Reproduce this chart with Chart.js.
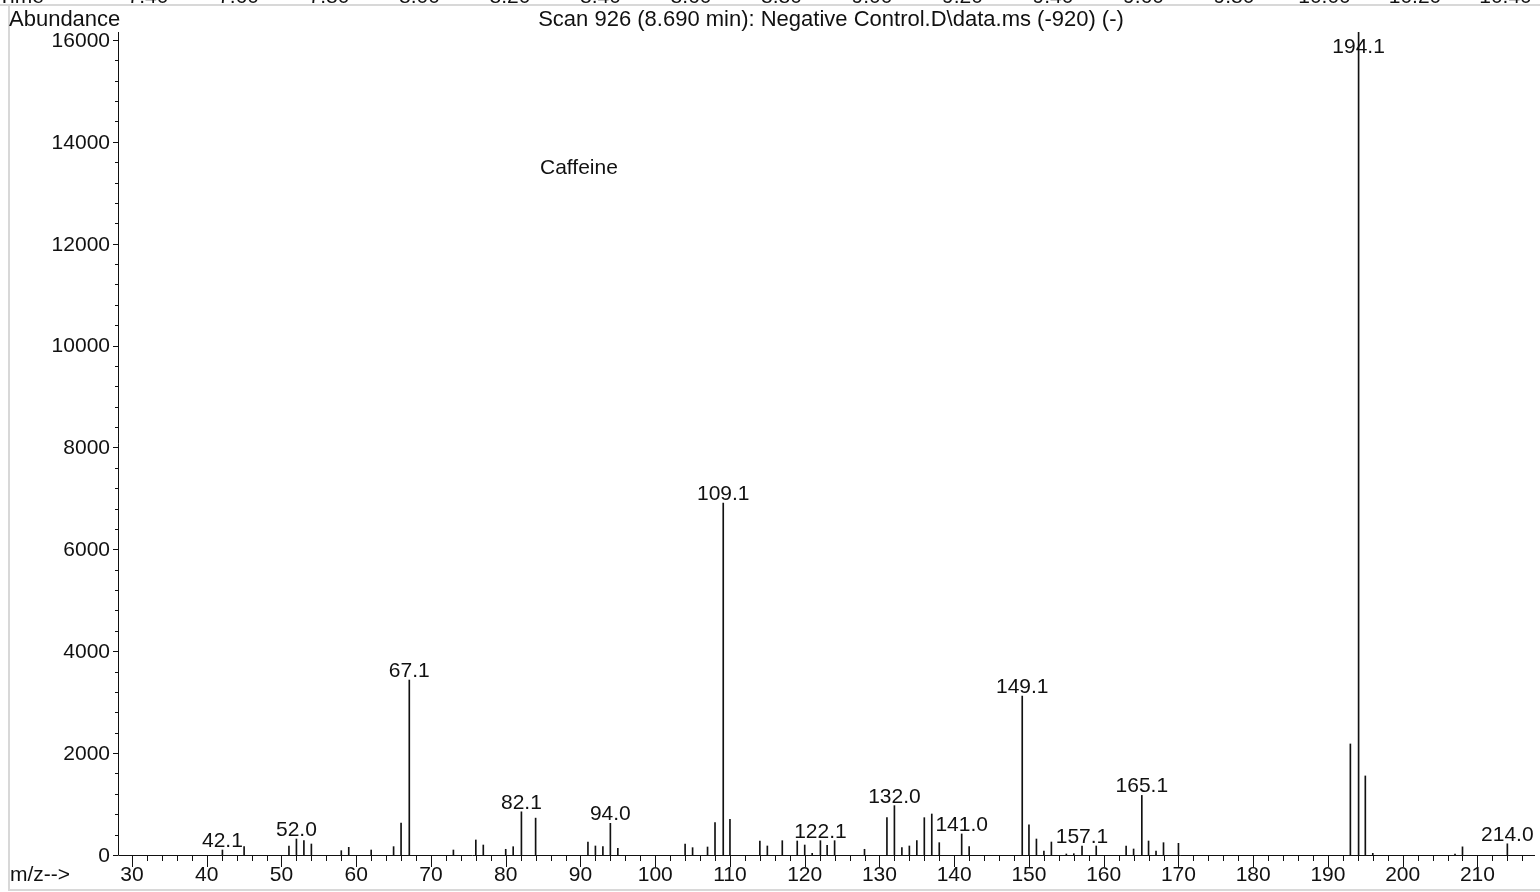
<!DOCTYPE html>
<html>
<head>
<meta charset="utf-8">
<script src="https://cdn.jsdelivr.net/npm/chart.js@4.4.1/dist/chart.umd.min.js"></script>
<style>
  html, body { margin: 0; padding: 0; background: #fff; }
  #wrap { width: 1540px; height: 892px; position: relative; }
</style>
</head>
<body>
<div id="wrap"><canvas id="msChart" width="1540" height="892"></canvas></div>
<script>
// m/z of every line in the scan and its abundance
const mzValues = [
  42.1, 45, 51, 52.0, 53, 54, 58, 59, 62, 65, 66, 67.1, 73, 76, 77, 80, 81, 82.1, 84,
  91, 92, 93, 94.0, 95, 104, 105, 107, 108, 109.1, 110, 114, 115, 117, 119, 120, 121,
  122.1, 123, 124, 128, 131, 132.0, 133, 134, 135, 136, 137, 138, 141.0, 142,
  149.1, 150, 151, 152, 153, 155, 156, 157.1, 159, 163, 164, 165.1, 166, 167, 168, 170,
  193, 194.1, 195, 196, 207, 208, 214.0
];
const abundance = [
  98, 164, 177, 314, 281, 216, 85, 151, 98, 164, 625, 3435, 98, 295, 196, 112, 163, 848, 724,
  255, 177, 164, 622, 131, 216, 144, 157, 635, 6910, 701, 275, 177, 281, 275, 196, 33,
  281, 190, 281, 112, 733, 969, 144, 177, 281, 733, 805, 242, 413, 164,
  3120, 590, 314, 79, 255, 20, 26, 177, 177, 177, 118, 1170, 275, 79, 242, 229,
  2180, 16150, 1552, 33, 20, 160, 220
];
// peaks that carry an m/z label
const labeledPeaks = [42.1, 52.0, 67.1, 82.1, 94.0, 109.1, 122.1, 132.0, 141.0, 149.1, 157.1, 165.1, 194.1, 214.0];

// axis ticks
const xMajorTicks = [30, 40, 50, 60, 70, 80, 90, 100, 110, 120, 130, 140, 150, 160, 170, 180, 190, 200, 210];
const yMajorTicks = [0, 2000, 4000, 6000, 8000, 10000, 12000, 14000, 16000];
// time axis of the chromatogram above (cut off at the top edge)
const timeTicks = ["7.40", "7.60", "7.80", "8.00", "8.20", "8.40", "8.60", "8.80", "9.00", "9.20", "9.40", "9.60", "9.80", "10.00", "10.20", "10.40"];

const titleText = "Scan 926 (8.690 min): Negative Control.D\\data.ms (-920) (-)";
const compoundName = "Caffeine";

const FONT = "21px 'Liberation Sans', Arial, sans-serif";
const HEAD_FONT = "22px 'Liberation Sans', Arial, sans-serif";
const INK = "#111";

const spectrumDecor = {
  id: "spectrumDecor",
  afterDatasetsDraw(chart) {
    const ctx = chart.ctx;
    const xs = chart.scales.x;
    const ys = chart.scales.y;
    const area = chart.chartArea;
    ctx.save();

    // light frame of the report page
    ctx.strokeStyle = "#d8d8d8";
    ctx.lineWidth = 2;
    ctx.beginPath();
    ctx.moveTo(0, 5); ctx.lineTo(1540, 5);
    ctx.moveTo(9, 5); ctx.lineTo(9, 891);
    ctx.moveTo(9, 890); ctx.lineTo(1540, 890);
    ctx.stroke();

    // axes
    ctx.strokeStyle = INK;
    ctx.lineWidth = 1;
    ctx.beginPath();
    ctx.moveTo(area.left + 0.5, area.top);
    ctx.lineTo(area.left + 0.5, area.bottom + 0.5);
    ctx.lineTo(area.right, area.bottom + 0.5);
    ctx.stroke();

    ctx.font = FONT;
    ctx.fillStyle = INK;

    // x ticks: minor every 2, major every 10
    ctx.beginPath();
    for (let v = 30; v <= xs.max; v += 2) {
      const px = Math.round(xs.getPixelForValue(v)) + 0.5;
      const len = v % 10 === 0 ? 12 : 6;
      ctx.moveTo(px, area.bottom);
      ctx.lineTo(px, area.bottom + len);
    }
    // y ticks: minor every 400, major every 2000
    for (let v = 0; v <= ys.max; v += 400) {
      const py = Math.round(ys.getPixelForValue(v)) + 0.5;
      const len = v % 2000 === 0 ? 5 : 3;
      ctx.moveTo(area.left, py);
      ctx.lineTo(area.left - len, py);
    }
    ctx.stroke();

    ctx.textAlign = "center";
    ctx.textBaseline = "middle";
    xMajorTicks.forEach(v => {
      ctx.fillText(String(v), xs.getPixelForValue(v), area.bottom + 20);
    });
    ctx.textAlign = "right";
    yMajorTicks.forEach(v => {
      ctx.fillText(String(v), area.left - 8, ys.getPixelForValue(v) + 1);
    });
    ctx.textAlign = "left";
    ctx.fillText("m/z-->", 10, area.bottom + 20);

    // header texts
    ctx.font = HEAD_FONT;
    ctx.textBaseline = "alphabetic";
    ctx.fillText("Abundance", 9, 26);
    ctx.textAlign = "center";
    ctx.fillText(titleText, 831, 26);
    ctx.font = FONT;
    ctx.textAlign = "left";
    ctx.fillText(compoundName, 540, 174);

    // cut-off time axis labels at the very top
    ctx.fillText("Time", -2, 3);
    ctx.textAlign = "center";
    timeTicks.forEach((t, i) => {
      ctx.fillText(t, 148 + i * 90.5, 3);
    });

    // peak labels
    ctx.textAlign = "center";
    labeledPeaks.forEach(m => {
      const idx = mzValues.indexOf(m);
      if (idx < 0) return;
      const px = xs.getPixelForValue(m);
      const top = ys.getPixelForValue(abundance[idx]);
      const baseline = Math.max(top - 3, area.top + 21);
      ctx.fillText(m.toFixed(1), px, baseline);
    });
    ctx.restore();
  }
};

const ctx = document.getElementById("msChart");
const msChart = new Chart(ctx, {
  type: "bar",
  data: {
    datasets: [{
      label: "Abundance",
      data: mzValues.map((m, i) => ({ x: m, y: abundance[i] })),
      backgroundColor: "#111",
      borderWidth: 0,
      barThickness: 1,
    }],
  },
  options: {
    responsive: false,
    animation: false,
    devicePixelRatio: 1,
    layout: { padding: { left: 118, right: 5, top: 32, bottom: 37 } },
    plugins: { legend: { display: false }, tooltip: { enabled: false } },
    scales: {
      x: { type: "linear", min: 28.13, max: 217.7, display: false, offset: false },
      y: { min: 0, max: 16157, display: false },
    },
  },
  plugins: [spectrumDecor],
});
</script>
</body>
</html>
